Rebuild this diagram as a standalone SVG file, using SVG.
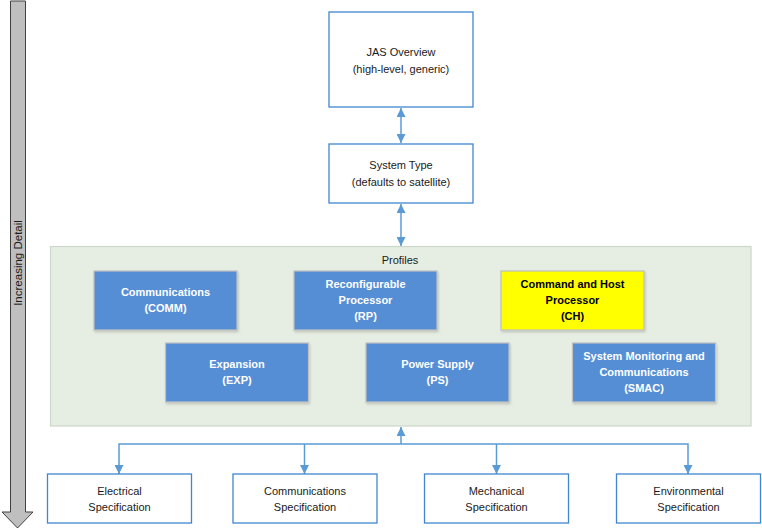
<svg xmlns="http://www.w3.org/2000/svg" width="762" height="529" viewBox="0 0 762 529">
<defs>
<style>
text{font-family:"Liberation Sans",Arial,sans-serif;font-size:11px;text-anchor:middle}
.wb{fill:#FFFFFF;stroke:#3F86CF;stroke-width:1.3}
.pb{fill:#558ED5;stroke:#C0C0C0;stroke-width:1.2;filter:url(#sh)}
.yb{fill:#FFFF00;stroke:#C0C0C0;stroke-width:1.2;filter:url(#sh)}
.wt{fill:#FFFFFF;font-weight:bold}
.bt{fill:#000000;font-weight:bold}
.dt{fill:#1A1A1A}
.cn{fill:none;stroke:#5B9BD5;stroke-width:1.5}
</style>
<filter id="sh" x="-5%" y="-5%" width="115%" height="125%">
<feDropShadow dx="1" dy="1.5" stdDeviation="0.8" flood-color="#000000" flood-opacity="0.18"/>
</filter>
<marker id="ah" viewBox="0 0 10 10" refX="10" refY="5" markerWidth="9" markerHeight="9" markerUnits="userSpaceOnUse" orient="auto-start-reverse">
<path d="M0,0 L10,5 L0,10 z" fill="#5B9BD5"/>
</marker>
</defs>

<g id="increasing-detail">
<polygon points="10.5,1 25.5,1 25.5,512 33,512 17.5,528 2,512 10.5,512" fill="#BFBFBF" stroke="#404040" stroke-width="1"/>
<text x="0" y="0" transform="translate(22,263) rotate(-90)" class="dt" style="font-size:11.5px">Increasing Detail</text>
</g>

<g id="profiles">
<rect x="50.5" y="246.5" width="700.5" height="179.5" fill="#E6EDE2" stroke="#CCD8C8" stroke-width="1.2"/>
<text x="400" y="264" class="dt">Profiles</text>
</g>

<g id="connectors">
<line class="cn" x1="401" y1="108" x2="401" y2="143" marker-start="url(#ah)" marker-end="url(#ah)"/>
<line class="cn" x1="401" y1="204" x2="401" y2="246" marker-start="url(#ah)" marker-end="url(#ah)"/>
<line class="cn" x1="401" y1="444" x2="401" y2="427" marker-end="url(#ah)"/>
<polyline class="cn" points="119,474 119,444 688,444 688,474" marker-start="url(#ah)" marker-end="url(#ah)"/>
<line class="cn" x1="304.5" y1="444" x2="304.5" y2="474" marker-end="url(#ah)"/>
<line class="cn" x1="496.5" y1="444" x2="496.5" y2="474" marker-end="url(#ah)"/>
</g>

<g id="jas-overview">
<rect class="wb" x="329" y="12" width="144" height="95"/>
<text x="401" y="56" class="dt">JAS Overview</text>
<text x="401" y="73" class="dt">(high-level, generic)</text>
</g>

<g id="system-type">
<rect class="wb" x="329" y="144" width="144" height="59"/>
<text x="401" y="169" class="dt">System Type</text>
<text x="401" y="186" class="dt">(defaults to satellite)</text>
</g>

<g id="comm">
<rect class="pb" x="94" y="271" width="143" height="59"/>
<text x="165.5" y="296" class="wt">Communications</text>
<text x="165.5" y="312" class="wt">(COMM)</text>
</g>

<g id="rp">
<rect class="pb" x="294" y="271" width="143" height="59"/>
<text x="365.5" y="288" class="wt">Reconfigurable</text>
<text x="365.5" y="304" class="wt">Processor</text>
<text x="365.5" y="320" class="wt">(RP)</text>
</g>

<g id="ch">
<rect class="yb" x="501" y="271" width="143" height="59"/>
<text x="572.5" y="288" class="bt">Command and Host</text>
<text x="572.5" y="304" class="bt">Processor</text>
<text x="572.5" y="320" class="bt">(CH)</text>
</g>

<g id="exp">
<rect class="pb" x="165.5" y="343" width="143" height="59"/>
<text x="237" y="368" class="wt">Expansion</text>
<text x="237" y="384" class="wt">(EXP)</text>
</g>

<g id="ps">
<rect class="pb" x="366" y="343" width="143" height="59"/>
<text x="437.5" y="368" class="wt">Power Supply</text>
<text x="437.5" y="384" class="wt">(PS)</text>
</g>

<g id="smac">
<rect class="pb" x="572.5" y="343" width="143" height="59"/>
<text x="644" y="360" class="wt">System Monitoring and</text>
<text x="644" y="376" class="wt">Communications</text>
<text x="644" y="392" class="wt">(SMAC)</text>
</g>

<g id="electrical">
<rect class="wb" x="47.5" y="474" width="144" height="49"/>
<text x="119.5" y="495" class="dt">Electrical</text>
<text x="119.5" y="511" class="dt">Specification</text>
</g>

<g id="communications-spec">
<rect class="wb" x="233" y="474" width="144" height="49"/>
<text x="305" y="495" class="dt">Communications</text>
<text x="305" y="511" class="dt">Specification</text>
</g>

<g id="mechanical">
<rect class="wb" x="424.5" y="474" width="144" height="49"/>
<text x="496.5" y="495" class="dt">Mechanical</text>
<text x="496.5" y="511" class="dt">Specification</text>
</g>

<g id="environmental">
<rect class="wb" x="616.5" y="474" width="144" height="49"/>
<text x="688.5" y="495" class="dt">Environmental</text>
<text x="688.5" y="511" class="dt">Specification</text>
</g>
</svg>
